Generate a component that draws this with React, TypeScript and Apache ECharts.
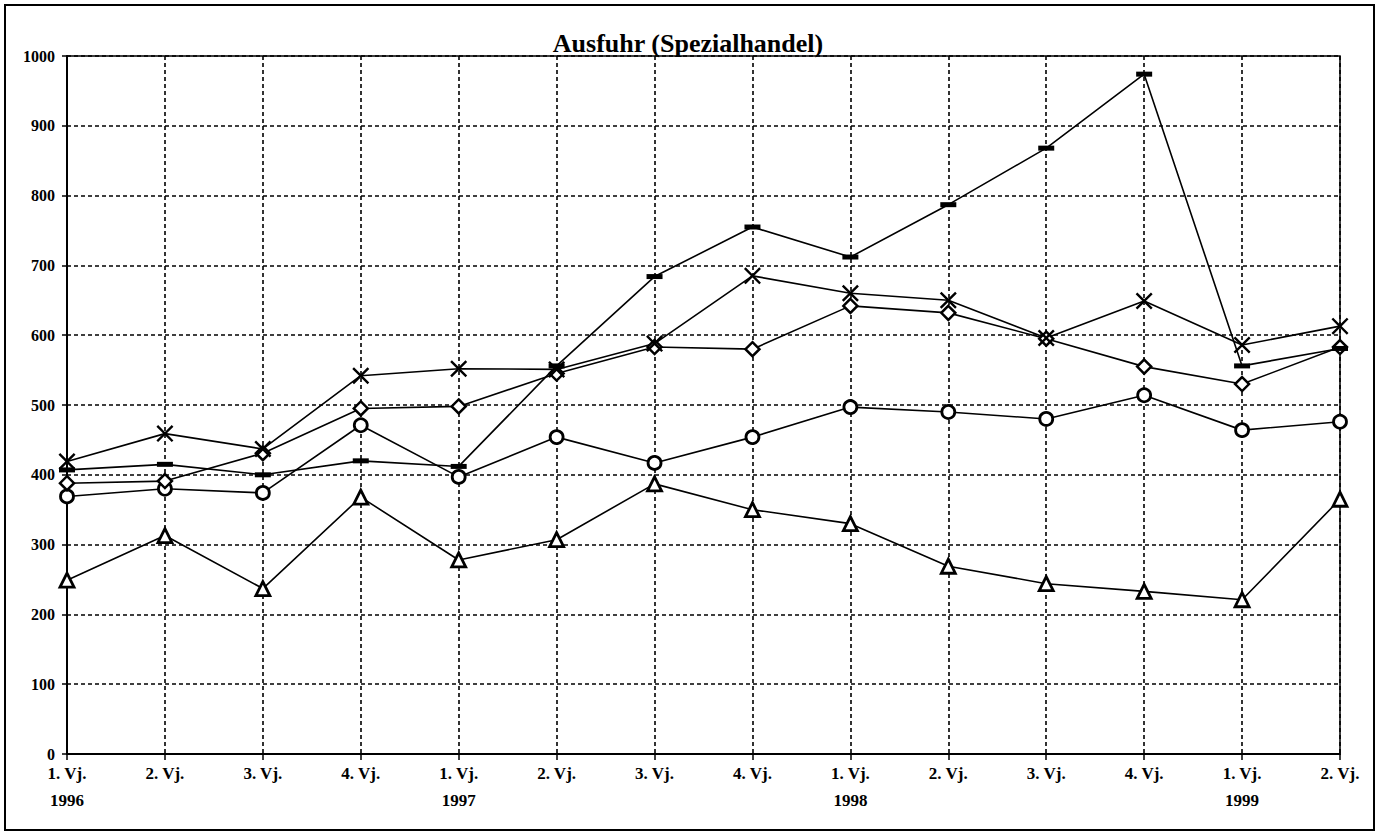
import React, { useEffect, useRef } from "react";
import * as echarts from "echarts";

const categories = [
  "1. Vj.\n1996", "2. Vj.", "3. Vj.", "4. Vj.",
  "1. Vj.\n1997", "2. Vj.", "3. Vj.", "4. Vj.",
  "1. Vj.\n1998", "2. Vj.", "3. Vj.", "4. Vj.",
  "1. Vj.\n1999", "2. Vj.",
];

const triangleSeries = [249, 313, 237, 368, 278, 307, 387, 350, 330, 269, 244, 233, 221, 365];
const circleSeries = [369, 380, 374, 471, 397, 454, 417, 454, 497, 490, 480, 514, 464, 476];
const diamondSeries = [388, 391, 431, 495, 498, 545, 583, 580, 642, 632, 595, 555, 530, 583];
const dashSeries = [407, 415, 400, 420, 412, 556, 684, 755, 712, 787, 868, 974, 556, 581];
const crossSeries = [419, 459, 437, 542, 552, 551, 588, 685, 660, 650, 596, 649, 586, 613];

const yTicks = [0, 100, 200, 300, 400, 500, 600, 700, 800, 900, 1000];

const titleText = "Ausfuhr (Spezialhandel)";

const FONT = "'Liberation Serif', 'Times New Roman', serif";
const X_PATH = "path://M0,1 L1,0 L5,4 L9,0 L10,1 L6,5 L10,9 L9,10 L5,6 L1,10 L0,9 L4,5 Z";

export default function App() {
  const ref = useRef<HTMLDivElement>(null);
  useEffect(() => {
    if (!ref.current) return;
    const chart = echarts.init(ref.current, null, { renderer: "svg" });
    const lineStyle = { color: "#000", width: 1.6 };
    const hollow = { color: "#fff", borderColor: "#000", borderWidth: 2.8 };
    chart.setOption({
      animation: false,
      backgroundColor: "#fff",
      grid: {
        left: 67, right: 42, top: 56, bottom: 80,
        show: true, borderColor: "#000", borderWidth: 1.5, backgroundColor: "transparent",
      },
      graphic: [
        {
          type: "rect",
          shape: { x: 5, y: 5, width: 1369, height: 825 },
          style: { fill: "none", stroke: "#000", lineWidth: 2 },
          silent: true,
        },
        {
          type: "text",
          x: 688, y: 43,
          style: {
            text: titleText,
            font: `bold 26px ${FONT}`,
            fill: "#000",
            textAlign: "center",
            textVerticalAlign: "middle",
          },
        },
      ],
      xAxis: {
        type: "category",
        data: categories,
        boundaryGap: false,
        axisLine: { show: true, lineStyle: { color: "#000", width: 2 } },
        axisTick: { show: true, alignWithLabel: true, length: 6, lineStyle: { color: "#000", width: 1.5 } },
        axisLabel: {
          interval: 0,
          color: "#000",
          fontFamily: FONT,
          fontWeight: "bold",
          fontSize: 17,
          lineHeight: 27,
          margin: 6,
        },
        splitLine: { show: true, lineStyle: { color: "#000", width: 1.6, type: [4, 3] } },
      },
      yAxis: {
        type: "value",
        min: yTicks[0],
        max: yTicks[yTicks.length - 1],
        interval: 100,
        axisLine: { show: true, lineStyle: { color: "#000", width: 2 } },
        axisTick: { show: true, length: 5, lineStyle: { color: "#000", width: 1.5 } },
        axisLabel: {
          color: "#000",
          fontFamily: FONT,
          fontWeight: "bold",
          fontSize: 16,
          margin: 12,
          formatter: (v: number) => String(v),
        },
        splitLine: { show: true, lineStyle: { color: "#000", width: 1.6, type: [4, 3] } },
      },
      series: [
        {
          type: "line", data: triangleSeries, symbol: "triangle", symbolSize: 14,
          lineStyle, itemStyle: hollow, showAllSymbol: true,
        },
        {
          type: "line", data: circleSeries, symbol: "circle", symbolSize: 13,
          lineStyle, itemStyle: hollow, showAllSymbol: true,
        },
        {
          type: "line", data: diamondSeries, symbol: "diamond", symbolSize: 14,
          lineStyle, itemStyle: { color: "#fff", borderColor: "#000", borderWidth: 2.5 }, showAllSymbol: true,
        },
        {
          type: "line", data: dashSeries, symbol: "rect", symbolSize: [16, 5],
          lineStyle, itemStyle: { color: "#000", borderWidth: 0 }, showAllSymbol: true,
        },
        {
          type: "line", data: crossSeries, symbol: X_PATH, symbolSize: 17,
          lineStyle, itemStyle: { color: "#000", borderWidth: 0 }, showAllSymbol: true,
        },
      ],
    });
    return () => chart.dispose();
  }, []);
  return (
    <div
      ref={ref}
      style={{ position: "absolute", left: 0, top: 0, width: 1382, height: 834, background: "#fff" }}
    />
  );
}
